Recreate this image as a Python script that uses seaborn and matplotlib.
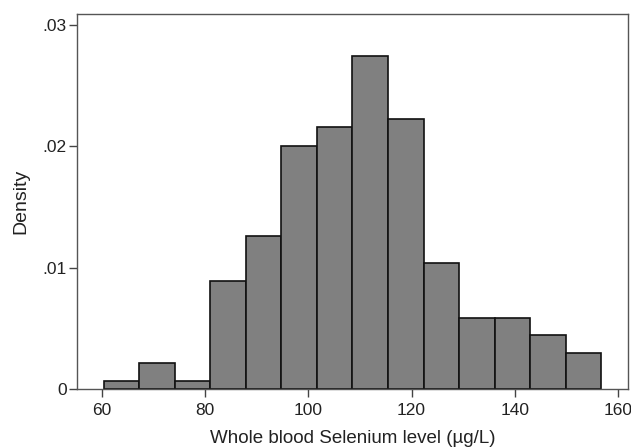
import numpy as np
import pandas as pd
import matplotlib
matplotlib.use('Agg')
import matplotlib.pyplot as plt
import seaborn as sns

# Histogram (density per bin)
bin_start = 60.4
bin_width = 6.88
density = [0.00068, 0.00217, 0.00068, 0.00885, 0.01261, 0.0200, 0.02154,
           0.0274, 0.02223, 0.01036, 0.00583, 0.00583, 0.00440, 0.00294]

x_ticks = [60, 80, 100, 120, 140, 160]
y_ticks = [0, 0.01, 0.02, 0.03]
y_tick_labels = ['0', '.01', '.02', '.03']

n_bins = len(density)
bin_end = bin_start + bin_width * n_bins
centers = bin_start + bin_width * (np.arange(n_bins) + 0.5)
df = pd.DataFrame({'selenium': centers, 'density': density})

sns.set_style('white')
plt.rcParams['font.family'] = ['Liberation Sans', 'DejaVu Sans']

fig = plt.figure(figsize=(6.31, 4.48), dpi=100)
ax = fig.add_axes([0.122, 0.132, 0.873, 0.837])

sns.histplot(data=df, x='selenium', weights='density', bins=n_bins,
             binrange=(bin_start, bin_end), stat='count',
             color='#808080', edgecolor='#111111', linewidth=1.2, alpha=1, ax=ax)

ax.set_xlim(55.2, 161.9)
ax.set_ylim(0, 0.0309)
ax.set_xticks(x_ticks)
ax.set_yticks(y_ticks)
ax.set_yticklabels(y_tick_labels)
ax.tick_params(axis='both', direction='out', length=5.5, width=1, color='#444444',
               labelsize=12.5, labelcolor='#222222', left=True, bottom=True, pad=2)
ax.tick_params(axis='x', pad=5)
ax.set_xlabel('Whole blood Selenium level (µg/L)', fontsize=13.5, color='#222222', labelpad=8)
ax.set_ylabel('Density', fontsize=14, color='#222222', labelpad=9)
for s in ax.spines.values():
    s.set_color('#555555')
    s.set_linewidth(1)

fig.savefig('out.png', dpi=100)
